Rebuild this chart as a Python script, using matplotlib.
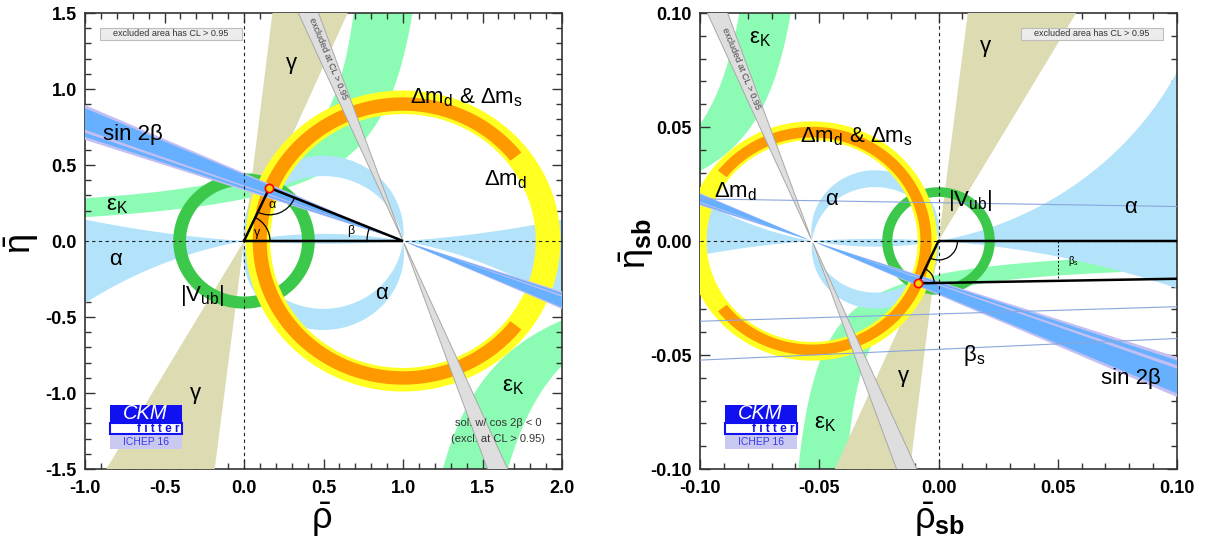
import numpy as np
import matplotlib
matplotlib.use("Agg")
import matplotlib.pyplot as plt
from matplotlib.patches import Rectangle, Arc
from matplotlib.ticker import MultipleLocator, FormatStrFormatter

plt.rcParams['font.family'] = ['Liberation Sans', 'DejaVu Sans']
plt.rcParams['mathtext.fontset'] = 'custom'
plt.rcParams['mathtext.rm'] = 'Liberation Sans'
plt.rcParams['mathtext.it'] = 'Liberation Sans:italic'
plt.rcParams['mathtext.bf'] = 'Liberation Sans:bold'
plt.rcParams['axes.unicode_minus'] = False

# ---------------- data: constraints in the (rho-bar, eta-bar) plane ----------------
apex = [0.160, 0.350]                 # best-fit apex
vub_center = [0.0, 0.0]
vub_radii = [0.365, 0.445]            # |Vub| ring
dmd_center = [1.0, 0.0]
dmd_radii = [0.835, 0.99]             # Delta m_d ring
dmds_radii = [0.857, 0.945]           # Delta m_d & Delta m_s ring
dmds_min_angle = 38.0                 # orange arc covers |theta| >= this (deg, around (1,0))
beta_outer = [18.4, 24.1]             # sin 2beta (deg), outer band
beta_core = [18.9, 23.6]
beta_stripe = [19.6, 20.1]
beta_prime = [66.3, 70.5]             # cos 2beta < 0 solution
gamma_upper = [66.5, 83.2]            # line angles (deg) of gamma wedge, eta > 0
gamma_lower = [60.0, 83.0]            # eta < 0
alpha_bands = [[83.5, 99.0], [-10.7, 4.0]]   # alpha (deg, mod 180)
# eps_K: upper branch edges  eta = d + c/(a - rho);  lower branch edges |eta| = c/(rho - a)
epsK_up_inner = [1.30, 0.36, 0.0]     # a, c, d
epsK_up_outer = [0.869, 0.241, 0.153]
epsK_lo_inner = [0.85, 0.60]          # a, c
epsK_lo_outer = [1.25, 0.615]
sb_scale = 0.053                      # (rho_sb, eta_sb) = -sb_scale * (rho, eta)
beta_s_slopes = [-0.0168, 0.0320, 0.0475]    # thin beta_s lines through (1,0) in sb plane
beta_s_marker = 0.05

# colours
C_ALPHA = '#b3e3fa'
C_EPSK = '#8cfcb4'
C_GAMMA = '#dddbb2'
C_VUB = '#3cc84a'
C_DMD = '#ffff22'
C_DMDS = '#ff9900'
C_GREY = '#dedede'
C_LAV = '#c4bff2'
C_BLUE = '#66b0ff'


# ---------------- constraint fields (region <= 0) ----------------
def ring_field(R, E, c, radii):
    d = np.hypot(R - c[0], E - c[1])
    return np.maximum(radii[0] - d, d - radii[1])


def line_wedge(R, E, p, lo, hi):
    phi = np.degrees(np.arctan2(E - p[1], R - p[0])) % 180.0
    c = 0.5 * (lo + hi)
    w = 0.5 * (hi - lo)
    dev = (phi - c + 90.0) % 180.0 - 90.0
    return np.abs(dev) - w


def band_mod(m, lo, hi):
    c = 0.5 * (lo + hi)
    w = 0.5 * (hi - lo)
    dev = (m - c + 90.0) % 180.0 - 90.0
    return np.abs(dev) - w


def epsk_field(R, E):
    a1, c1, d1 = epsK_up_inner
    a2, c2, d2 = epsK_up_outer
    up = np.maximum(c1 - (E - d1) * (a1 - R), (E - d2) * (a2 - R) - c2)
    n = -E
    b1, k1 = epsK_lo_inner
    b2, k2 = epsK_lo_outer
    lo = np.maximum(k1 - n * (R - b1), n * (R - b2) - k2)
    return np.where(E > 0, up, lo)


def fields(R, E):
    f = {}
    z = R + 1j * E
    with np.errstate(all='ignore'):
        m = np.degrees(np.angle((z - 1.0) / z))
    f['alpha'] = np.minimum(band_mod(m, *alpha_bands[0]), band_mod(m, *alpha_bands[1]))
    f['epsK'] = epsk_field(R, E)
    f['gamma'] = np.where(E >= 0,
                          line_wedge(R, E, [0, 0], *gamma_upper),
                          line_wedge(R, E, [0, 0], *gamma_lower))
    f['vub'] = ring_field(R, E, vub_center, vub_radii)
    f['dmd'] = ring_field(R, E, dmd_center, dmd_radii)
    th = np.degrees(np.abs(np.arctan2(E - dmd_center[1], R - dmd_center[0])))
    f['dmds'] = np.maximum(ring_field(R, E, dmd_center, dmds_radii),
                           np.radians(dmds_min_angle - th) * 0.9)
    f['grey'] = line_wedge(R, E, dmd_center, 180 - beta_prime[1], 180 - beta_prime[0])
    f['b_out'] = line_wedge(R, E, dmd_center, 180 - beta_outer[1], 180 - beta_outer[0])
    f['b_core'] = line_wedge(R, E, dmd_center, 180 - beta_core[1], 180 - beta_core[0])
    f['b_str'] = line_wedge(R, E, dmd_center, 180 - beta_stripe[1], 180 - beta_stripe[0])
    return f


def fill(ax, X, Y, F, color, z):
    ax.contourf(X, Y, F, levels=[-1e9, 0], colors=[color], zorder=z, antialiased=True)


def draw_bands(ax, X, Y, R, E):
    f = fields(R, E)
    fill(ax, X, Y, f['epsK'], C_EPSK, 1)
    fill(ax, X, Y, f['alpha'], C_ALPHA, 2)
    fill(ax, X, Y, f['gamma'], C_GAMMA, 3)
    fill(ax, X, Y, f['vub'], C_VUB, 4)
    fill(ax, X, Y, f['dmd'], C_DMD, 5)
    fill(ax, X, Y, f['dmds'], C_DMDS, 6)
    fill(ax, X, Y, f['grey'], C_GREY, 7)
    ax.contour(X, Y, f['grey'], levels=[0], colors=['#a8a8a8'], linewidths=0.7, zorder=7.1)
    fill(ax, X, Y, f['b_out'], C_LAV, 8)
    fill(ax, X, Y, f['b_core'], C_BLUE, 8.1)
    fill(ax, X, Y, f['b_str'], C_LAV, 8.2)


def style_axes(ax, xlim, ylim, major_x, minor_x, major_y, minor_y, fmt):
    ax.set_xlim(*xlim)
    ax.set_ylim(*ylim)
    ax.xaxis.set_major_locator(MultipleLocator(major_x))
    ax.xaxis.set_minor_locator(MultipleLocator(minor_x))
    ax.yaxis.set_major_locator(MultipleLocator(major_y))
    ax.yaxis.set_minor_locator(MultipleLocator(minor_y))
    ax.xaxis.set_major_formatter(FormatStrFormatter(fmt))
    ax.yaxis.set_major_formatter(FormatStrFormatter(fmt))
    ax.tick_params(which='both', direction='in', top=True, right=True, width=1.0, color='#333333')
    ax.tick_params(which='major', length=7)
    ax.tick_params(which='minor', length=4)
    ax.tick_params(axis='x', pad=8)
    ax.tick_params(axis='y', pad=6)
    for lab in ax.get_xticklabels() + ax.get_yticklabels():
        lab.set_fontweight('bold')
        lab.set_fontsize(13)
    for s in ax.spines.values():
        s.set_linewidth(1.2)
        s.set_color('#333333')
    ax.axvline(0, color='#222222', lw=0.8, ls=(0, (3, 3)), zorder=9)
    ax.axhline(0, color='#222222', lw=0.8, ls=(0, (3, 3)), zorder=9)


def logo(ax):
    t = ax.transAxes
    ax.add_patch(Rectangle((0.052, 0.101), 0.151, 0.039, transform=t, fc='#1010f0', ec='none', zorder=20))
    ax.text(0.127, 0.1215, 'CKM', transform=t, color='white', fontsize=14.5, style='italic',
            ha='center', va='center', zorder=21)
    ax.add_patch(Rectangle((0.052, 0.077), 0.151, 0.024, transform=t, fc='white', ec='#1010f0', lw=1.5, zorder=20))
    ax.text(0.199, 0.088, 'f i t t e r', transform=t, color='#1010f0', fontsize=8.5, fontweight='bold',
            ha='right', va='center', zorder=21)
    ax.add_patch(Rectangle((0.052, 0.044), 0.151, 0.030, transform=t, fc='#c8c8f0', ec='none', zorder=20))
    ax.text(0.1275, 0.0585, 'ICHEP 16', transform=t, color='#3a3ae8', fontsize=7.5,
            ha='center', va='center', zorder=21)


def cl_box(ax, x0, x1):
    t = ax.transAxes
    ax.add_patch(Rectangle((x0, 0.941), x1 - x0, 0.027, transform=t, fc='#ececec', ec='#bdbdbd', lw=0.8, zorder=20))
    ax.text(0.5 * (x0 + x1), 0.9545, 'excluded area has CL > 0.95', transform=t, fontsize=6.5,
            color='#333333', ha='center', va='center', zorder=21)


fig = plt.figure(figsize=(12.06, 5.46), dpi=100)
axL = fig.add_axes([85 / 1206, 1 - 469 / 546, 477 / 1206, 456 / 546])
axR = fig.add_axes([700 / 1206, 1 - 469 / 546, 477 / 1206, 456 / 546])

# ---------------- left panel ----------------
xs = np.linspace(-1.0, 2.0, 900)
ys = np.linspace(-1.5, 1.5, 900)
XL, YL = np.meshgrid(xs, ys)
draw_bands(axL, XL, YL, XL, YL)
style_axes(axL, (-1, 2), (-1.5, 1.5), 0.5, 0.1, 0.5, 0.1, '%.1f')

tri_x = [0.0, apex[0], 1.0, 0.0]
tri_y = [0.0, apex[1], 0.0, 0.0]
axL.plot(tri_x, tri_y, color='black', lw=1.8, zorder=10, solid_joinstyle='miter')
pxL, pyL = 477 / 3.0, 456 / 3.0
ang_apex = np.degrees(np.arctan2(apex[1], apex[0]))
ang_to0 = np.degrees(np.arctan2(-apex[1], -apex[0])) % 360
ang_to1 = np.degrees(np.arctan2(-apex[1], 1 - apex[0])) % 360
ang_b = np.degrees(np.arctan2(apex[1], apex[0] - 1)) % 360
for (cx, cy), rpx, t1, t2 in [((0, 0), 26, 0, ang_apex), ((apex[0], apex[1]), 27, ang_to0, ang_to1),
                              ((1, 0), 36, ang_b, 180)]:
    axL.add_patch(Arc((cx, cy), 2 * rpx / pxL, 2 * rpx / pyL, theta1=t1, theta2=t2, color='black', lw=0.9, zorder=10))
axL.plot([apex[0]], [apex[1]], 'o', ms=6, mfc='#ffcc00', mec='red', mew=1.2, zorder=11)
axL.text(0.085, 0.055, 'γ', fontsize=9, ha='center', va='center', zorder=12)
axL.text(0.175, 0.24, 'α', fontsize=9, ha='center', va='center', zorder=12)
axL.text(0.67, 0.065, 'β', fontsize=9, ha='center', va='center', zorder=12)

big = 16
labels_left = [
    (0.30, 1.165, 'γ'), (-0.70, 0.70, 'sin 2β'), (-0.80, 0.235, r'ε$_{\mathregular{K}}$'),
    (-0.81, -0.12, 'α'), (-0.26, -0.36, r'|V$_{\mathregular{ub}}$|'), (0.866, -0.346, 'α'),
    (1.40, 0.94, r'Δm$_{\mathregular{d}}$ & Δm$_{\mathregular{s}}$'), (1.646, 0.40, r'Δm$_{\mathregular{d}}$'),
    (1.694, -0.96, r'ε$_{\mathregular{K}}$'), (-0.306, -1.005, 'γ'),
]
for x, y, s in labels_left:
    axL.text(x, y, s, fontsize=big, ha='center', va='center', zorder=12)
axL.text(1.60, -1.20, 'sol. w/ cos 2β < 0', fontsize=8, color='#333333', ha='center', va='center', zorder=12)
axL.text(1.60, -1.30, '(excl. at CL > 0.95)', fontsize=8, color='#333333', ha='center', va='center', zorder=12)

rot = np.degrees(np.arctan2(np.sin(np.radians(180 - 68.4)) * pyL, np.cos(np.radians(180 - 68.4)) * pxL)) - 180
axL.text(0.53, 1.20, 'excluded at CL > 0.95', fontsize=6.5, color='#444444', rotation=rot,
         rotation_mode='anchor', ha='center', va='center', zorder=12)
logo(axL)
cl_box(axL, 0.031, 0.329)

# ---------------- right panel ----------------
xs2 = np.linspace(-0.1, 0.1, 900)
ys2 = np.linspace(-0.1, 0.1, 900)
XR, YR = np.meshgrid(xs2, ys2)
draw_bands(axR, XR, YR, -XR / sb_scale, -YR / sb_scale)
style_axes(axR, (-0.1, 0.1), (-0.1, 0.1), 0.05, 0.01, 0.05, 0.01, '%.2f')

for s in beta_s_slopes:
    xx = np.array([-0.1, 0.1])
    axR.plot(xx, s * (xx - 1.0), color='#8aa6dc', lw=0.8, zorder=9)

apex_sb = [-sb_scale * apex[0], -sb_scale * apex[1]]
axR.plot([1.0, 0.0, apex_sb[0], 1.0], [0.0, 0.0, apex_sb[1], 0.0], color='black', lw=1.8, zorder=10)
pxR, pyR = 477 / 0.2, 456 / 0.2
a0 = np.degrees(np.arctan2(apex_sb[1], apex_sb[0])) % 360
a1 = np.degrees(np.arctan2(-apex_sb[1], 1 - apex_sb[0]))
a2 = np.degrees(np.arctan2(-apex_sb[1], -apex_sb[0]))
axR.add_patch(Arc((0, 0), 2 * 19 / pxR, 2 * 19 / pyR, theta1=a0, theta2=360, color='black', lw=0.9, zorder=10))
axR.add_patch(Arc((apex_sb[0], apex_sb[1]), 2 * 16 / pxR, 2 * 16 / pyR, theta1=a1, theta2=a2,
                  color='black', lw=0.9, zorder=10))
yb = apex_sb[1] + (beta_s_marker - apex_sb[0]) * (0 - apex_sb[1]) / (1 - apex_sb[0])
axR.plot([beta_s_marker, beta_s_marker], [0, yb], color='black', lw=0.7, ls=(0, (2, 2)), zorder=10)
axR.text(0.0566, -0.0087, r'β$_{\mathregular{s}}$', fontsize=7, ha='center', va='center', zorder=12)
axR.plot([apex_sb[0]], [apex_sb[1]], 'o', ms=6, mfc='#ffcc00', mec='red', mew=1.2, zorder=11)

labels_right = [
    (-0.0746, 0.089, r'ε$_{\mathregular{K}}$'), (0.0198, 0.0853, 'γ'),
    (-0.0346, 0.0459, r'Δm$_{\mathregular{d}}$ & Δm$_{\mathregular{s}}$'), (-0.085, 0.0216, r'Δm$_{\mathregular{d}}$'),
    (-0.045, 0.0181, 'α'), (0.0134, 0.0178, r'|V$_{\mathregular{ub}}$|'), (0.0806, 0.0148, 'α'),
    (0.015, -0.0503, r'β$_{\mathregular{s}}$'), (0.0806, -0.0602, 'sin 2β'), (-0.0146, -0.0594, 'γ'),
    (-0.0474, -0.0799, r'ε$_{\mathregular{K}}$'),
]
for x, y, s in labels_right:
    axR.text(x, y, s, fontsize=big, ha='center', va='center', zorder=12)
rotR = np.degrees(np.arctan2(np.sin(np.radians(180 - 68.4)) * pyR, np.cos(np.radians(180 - 68.4)) * pxR)) - 180
axR.text(-0.0826, 0.0754, 'excluded at CL > 0.95', fontsize=6.5, color='#444444', rotation=rotR,
         rotation_mode='anchor', ha='center', va='center', zorder=12)
logo(axR)
cl_box(axR, 0.673, 0.971)

# axis labels
fig.text(22 / 1206, 1 - 244 / 546, r'$\bar{\mathregular{η}}$', fontsize=26, rotation=90, ha='center', va='center')
fig.text(322 / 1206, 1 - 520 / 546, r'$\bar{\mathregular{ρ}}$', fontsize=26, ha='center', va='center')
fig.text(637 / 1206, 1 - 244 / 546, r'$\bar{\mathregular{η}}_{\mathbf{sb}}$', fontsize=26, rotation=90,
         ha='center', va='center')
fig.text(940 / 1206, 1 - 520 / 546, r'$\bar{\mathregular{ρ}}_{\mathbf{sb}}$', fontsize=26, ha='center', va='center')

fig.savefig('out.png', dpi=100)
